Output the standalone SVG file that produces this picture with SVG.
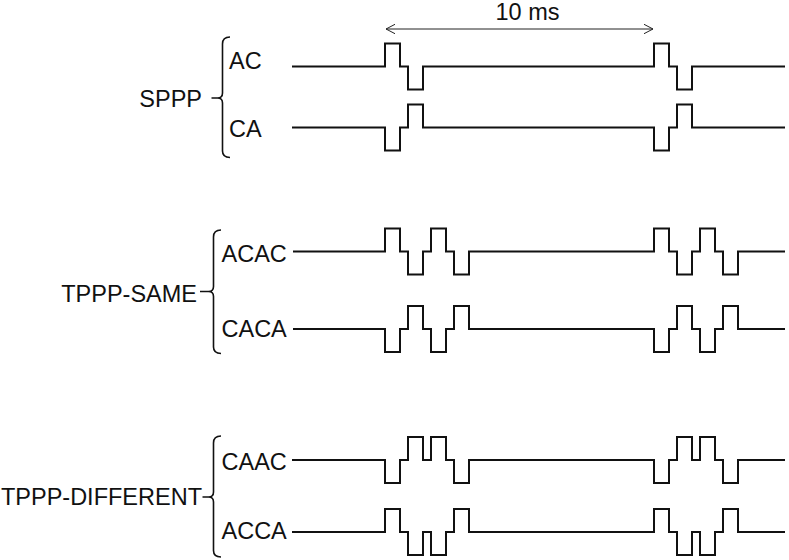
<svg xmlns="http://www.w3.org/2000/svg" width="789" height="560" viewBox="0 0 789 560">
<style>
text{font-family:"Liberation Sans",Arial,sans-serif;font-size:23.5px;fill:#111}
.w{fill:none;stroke:#111;stroke-width:2;stroke-linejoin:miter}
.b{fill:none;stroke:#111;stroke-width:1.6}
.a{fill:none;stroke:#222;stroke-width:1}
</style>
<rect width="789" height="560" fill="#fff"/>
<g id="connectors">
<path class="a" d="M386,29 H653 M395,24.3 L386,29 L395,33.7 M644,24.3 L653,29 L644,33.7"/>
<path class="b" d="M230,37 Q222.5,37 222.5,44 V93 Q222.5,98 217.5,98 H211.5 M217.5,98 Q222.5,98 222.5,103 V151 Q222.5,157.5 230,157.5"/>
<path class="b" d="M221,230 Q213.5,230 213.5,237 V286.5 Q213.5,291.5 208.5,291.5 H200 M208.5,291.5 Q213.5,291.5 213.5,296.5 V347 Q213.5,353.5 221,353.5"/>
<path class="b" d="M221,436 Q213.5,436 213.5,443 V492 Q213.5,497 208.5,497 H202.5 M208.5,497 Q213.5,497 213.5,502 V550.5 Q213.5,557 221,557"/>
</g>
<g id="interval"><text x="527.5" y="20" text-anchor="middle">10 ms</text></g>
<g id="sppp"><text x="202" y="106.5" text-anchor="end">SPPP</text></g>
<g id="sppp-ac">
<text x="229" y="68.5">AC</text>
<path class="w" d="M292,66.5 H385 V43.5 H400 V66.5 H408 V89.5 H423 V66.5 H654 V43.5 H669 V66.5 H677 V89.5 H692 V66.5 H785"/>
</g>
<g id="sppp-ca">
<text x="229" y="137">CA</text>
<path class="w" d="M292,127.5 H385 V150.5 H400 V127.5 H408 V104.5 H423 V127.5 H654 V150.5 H669 V127.5 H677 V104.5 H692 V127.5 H785"/>
</g>
<g id="tppp-same"><text x="197" y="301.5" text-anchor="end">TPPP-SAME</text></g>
<g id="same-acac">
<text x="221.5" y="261.5">ACAC</text>
<path class="w" d="M293,251.5 H385 V228.5 H400 V251.5 H408 V274.5 H423 V251.5 H431 V228.5 H446 V251.5 H454 V274.5 H469 V251.5 H654 V228.5 H669 V251.5 H677 V274.5 H692 V251.5 H700 V228.5 H715 V251.5 H723 V274.5 H738 V251.5 H785"/>
</g>
<g id="same-caca">
<text x="221.5" y="336.5">CACA</text>
<path class="w" d="M293,329 H385 V352 H400 V329 H408 V306 H423 V329 H431 V352 H446 V329 H454 V306 H469 V329 H654 V352 H669 V329 H677 V306 H692 V329 H700 V352 H715 V329 H723 V306 H738 V329 H785"/>
</g>
<g id="tppp-different"><text x="202" y="505" text-anchor="end">TPPP-DIFFERENT</text></g>
<g id="diff-caac">
<text x="221.5" y="469.5">CAAC</text>
<path class="w" d="M292,460 H385 V483 H400 V460 H408 V437 H423 V460 H431 V437 H446 V460 H454 V483 H469 V460 H654 V483 H669 V460 H677 V437 H692 V460 H700 V437 H715 V460 H723 V483 H738 V460 H785"/>
</g>
<g id="diff-acca">
<text x="221.5" y="538.5">ACCA</text>
<path class="w" d="M292,532 H385 V509 H400 V532 H408 V555 H423 V532 H431 V555 H446 V532 H454 V509 H469 V532 H654 V509 H669 V532 H677 V555 H692 V532 H700 V555 H715 V532 H723 V509 H738 V532 H785"/>
</g>
</svg>
